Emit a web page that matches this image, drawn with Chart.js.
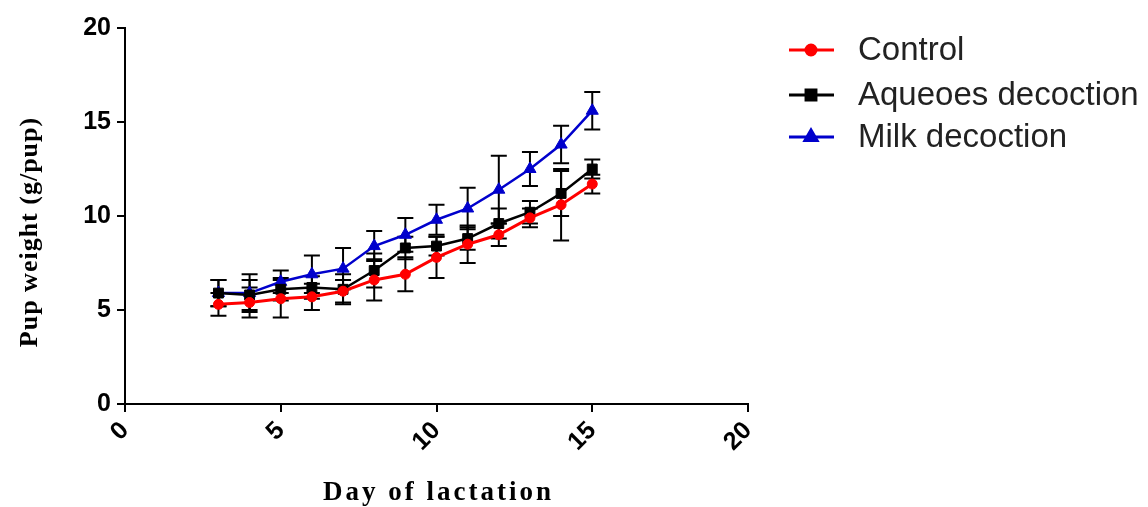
<!DOCTYPE html>
<html>
<head>
<meta charset="utf-8">
<script src="https://cdn.jsdelivr.net/npm/chart.js@4.4.1/dist/chart.umd.min.js"></script>
<style>
  html, body { margin: 0; padding: 0; background: #fff; }
  #wrap { width: 1148px; height: 507px; position: relative; }
</style>
</head>
<body>
<div id="wrap"><canvas id="pupChart"></canvas></div>
<script>
// === DATA ===
const days = [3, 4, 5, 6, 7, 8, 9, 10, 11, 12, 13, 14, 15];
const control = [5.3, 5.4, 5.6, 5.7, 6.0, 6.6, 6.9, 7.8, 8.5, 9.0, 9.9, 10.6, 11.7];
const aqueous = [5.9, 5.8, 6.1, 6.2, 6.1, 7.1, 8.3, 8.4, 8.8, 9.6, 10.2, 11.2, 12.5];
const milk = [5.9, 5.9, 6.5, 6.9, 7.2, 8.4, 9.0, 9.8, 10.4, 11.4, 12.5, 13.8, 15.6];
const controlSem = [0.6, 0.8, 1.0, 0.7, 0.6, 1.1, 0.9, 1.1, 1.0, 0.6, 0.5, 1.9, 0.5];
const aqueousSem = [0.7, 0.8, 0.6, 0.6, 0.8, 0.9, 0.6, 0.5, 0.6, 0.8, 0.6, 1.2, 0.5];
const milkSem = [0.7, 1.0, 0.6, 1.0, 1.1, 0.8, 0.9, 0.8, 1.1, 1.8, 0.9, 1.0, 1.0];
const seriesNames = ['Control', 'Aqueoes decoction', 'Milk decoction'];
const xTicks = [0, 5, 10, 15, 20];
const yTicks = [0, 5, 10, 15, 20];

const toPoints = arr => arr.map((v, i) => ({ x: days[i], y: v }));

// === ERROR BARS (drawn through the scales) ===
const errorBars = {
  id: 'errorBars',
  beforeDatasetsDraw(chart) {
    const { ctx, scales: { x, y } } = chart;
    ctx.save();
    ctx.strokeStyle = '#000';
    ctx.lineWidth = 2;
    chart.data.datasets.forEach(ds => {
      ds.data.forEach((p, i) => {
        const px = x.getPixelForValue(p.x);
        const top = y.getPixelForValue(p.y + ds.sem[i]);
        const bot = y.getPixelForValue(p.y - ds.sem[i]);
        ctx.beginPath();
        ctx.moveTo(px, top); ctx.lineTo(px, bot);
        ctx.moveTo(px - 8, top); ctx.lineTo(px + 8, top);
        ctx.moveTo(px - 8, bot); ctx.lineTo(px + 8, bot);
        ctx.stroke();
      });
    });
    ctx.restore();
  }
};

// === TITLES + LEGEND ===
const extras = {
  id: 'extras',
  afterDraw(chart) {
    const { ctx, chartArea } = chart;
    ctx.save();
    ctx.fillStyle = '#000';
    ctx.textAlign = 'center';
    ctx.textBaseline = 'middle';
    ctx.font = 'bold 27px "Liberation Serif", "Times New Roman", serif';
    ctx.letterSpacing = '3px';
    ctx.fillText('Day of lactation', (chartArea.left + chartArea.right) / 2 + 2, 493);
    ctx.letterSpacing = '1px';
    ctx.translate(30, 232);
    ctx.rotate(-Math.PI / 2);
    ctx.font = 'bold 26px "Liberation Serif", "Times New Roman", serif';
    ctx.fillText('Pup weight (g/pup)', 0, 0);
    ctx.restore();

    // legend
    ctx.save();
    const rows = [50, 95, 137];
    chart.data.datasets.forEach((ds, i) => {
      const yy = rows[i];
      ctx.strokeStyle = ds.borderColor;
      ctx.lineWidth = 3;
      ctx.beginPath();
      ctx.moveTo(789, yy); ctx.lineTo(834, yy);
      ctx.stroke();
      ctx.fillStyle = ds.borderColor;
      Chart.helpers.drawPoint(ctx, { pointStyle: ds.pointStyle, radius: ds.pointRadius, rotation: 0, borderWidth: 1 }, 811, yy);
      ctx.fill();
      ctx.fillStyle = '#222';
      ctx.font = '33px "Liberation Sans", Arial, sans-serif';
      ctx.textAlign = 'left';
      ctx.textBaseline = 'middle';
      ctx.fillText(ds.label, 858, yy + 1);
    });
    ctx.restore();
  }
};

const ctxPup = document.getElementById('pupChart').getContext('2d');
new Chart(ctxPup, {
  type: 'line',
  data: {
    datasets: [
      {
        label: seriesNames[0], data: toPoints(control), sem: controlSem,
        borderColor: '#ff0000', backgroundColor: '#ff0000', borderWidth: 3,
        pointStyle: 'circle', pointRadius: 5, pointBorderWidth: 1
      },
      {
        label: seriesNames[1], data: toPoints(aqueous), sem: aqueousSem,
        borderColor: '#000000', backgroundColor: '#000000', borderWidth: 2.5,
        pointStyle: 'rect', pointRadius: 7, pointBorderWidth: 1
      },
      {
        label: seriesNames[2], data: toPoints(milk), sem: milkSem,
        borderColor: '#0000cc', backgroundColor: '#0000cc', borderWidth: 2.5,
        pointStyle: 'triangle', pointRadius: 7, pointBorderWidth: 1
      }
    ]
  },
  options: {
    responsive: true,
    maintainAspectRatio: false,
    animation: false,
    layout: { padding: { left: 0, right: 400, top: 28, bottom: 0 } },
    plugins: { legend: { display: false }, tooltip: { enabled: false } },
    scales: {
      x: {
        type: 'linear', min: 0, max: 20,
        afterFit: s => { s.height = 103; },
        afterBuildTicks: s => { s.ticks = xTicks.map(v => ({ value: v })); },
        grid: { drawOnChartArea: false, drawTicks: true, tickLength: 8, color: '#000', lineWidth: 2 },
        border: { color: '#000', width: 2 },
        ticks: {
          color: '#000', minRotation: 45, maxRotation: 45, padding: 4,
          font: { family: '"Liberation Sans", Arial, sans-serif', size: 25, weight: 'bold' }
        }
      },
      y: {
        min: 0, max: 20,
        afterFit: s => { s.width = 125; },
        afterBuildTicks: s => { s.ticks = yTicks.map(v => ({ value: v })); },
        grid: { drawOnChartArea: false, drawTicks: true, tickLength: 8, color: '#000', lineWidth: 2 },
        border: { color: '#000', width: 2 },
        ticks: {
          color: '#000', padding: 6,
          font: { family: '"Liberation Sans", Arial, sans-serif', size: 25, weight: 'bold' }
        }
      }
    }
  },
  plugins: [errorBars, extras]
});
</script>
</body>
</html>
